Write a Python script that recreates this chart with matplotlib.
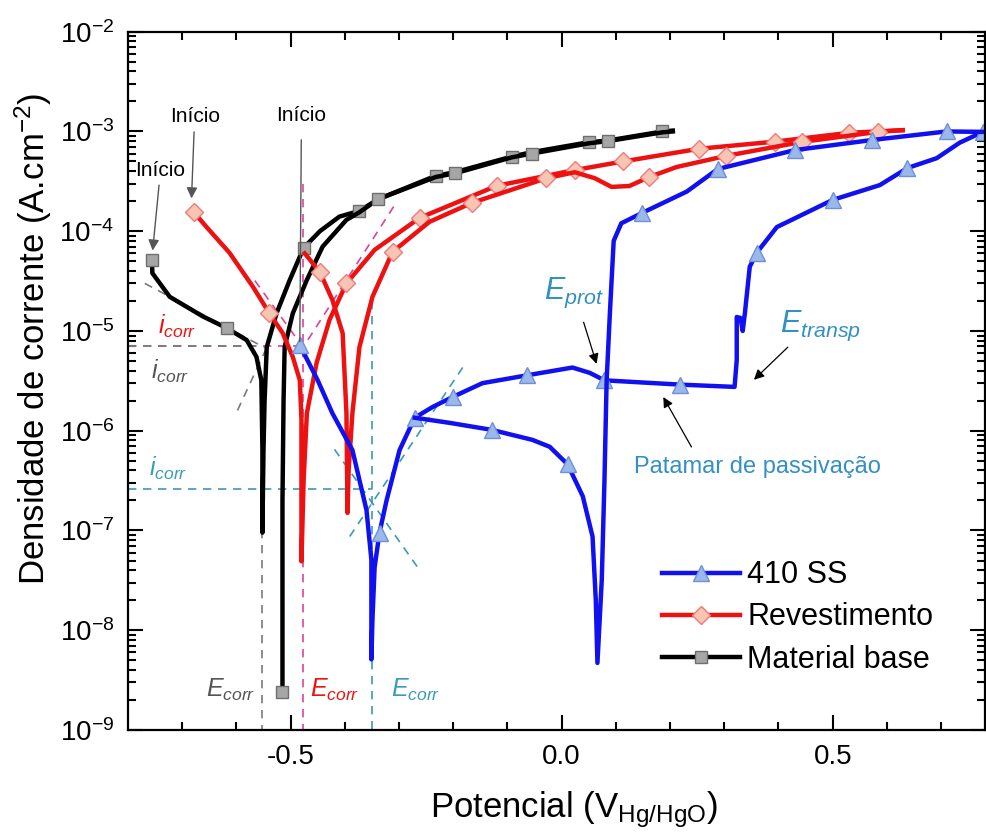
import numpy as np
import matplotlib
matplotlib.use("Agg")
import matplotlib.pyplot as plt

plt.rcParams['font.family'] = ['Liberation Sans', 'DejaVu Sans']
plt.rcParams['mathtext.fontset'] = 'custom'
plt.rcParams['mathtext.rm'] = 'Liberation Sans'
plt.rcParams['mathtext.it'] = 'Liberation Sans:italic'
plt.rcParams['mathtext.bf'] = 'Liberation Sans:bold'

# ---- Material base (black): forward and reverse scans ----
base_fwd_v = [-0.756, -0.755, -0.723, -0.662, -0.618, -0.581, -0.563, -0.554, -0.552, -0.552,
              -0.550, -0.548, -0.544, -0.526, -0.502, -0.476, -0.446, -0.410, -0.373, -0.338,
              -0.232, -0.197, -0.092, -0.055, 0.050, 0.085, 0.186, 0.205]
base_fwd_i = [5.1e-5, 3.8e-5, 2.2e-5, 1.4e-5, 1.07e-5, 8.1e-6, 5.5e-6, 3.2e-6, 6.5e-7, 9.5e-8,
              6.5e-7, 2.0e-6, 6.9e-6, 1.5e-5, 3.2e-5, 6.8e-5, 1.0e-4, 1.4e-4, 1.6e-4, 2.1e-4,
              3.6e-4, 3.9e-4, 5.6e-4, 6.2e-4, 7.8e-4, 8.1e-4, 1.0e-3, 1.02e-3]
base_fwd_mk = [0, 4, 15, 18, 20, 22, 24, 26]
base_rev_v = [0.205, 0.186, 0.085, 0.050, -0.055, -0.092, -0.197, -0.232, -0.338, -0.373,
              -0.397, -0.441, -0.470, -0.496, -0.511, -0.513, -0.515, -0.515]
base_rev_i = [1.0e-3, 9.8e-4, 8.0e-4, 7.6e-4, 6.0e-4, 5.5e-4, 3.8e-4, 3.5e-4, 2.1e-4, 1.55e-4,
              1.3e-4, 7.0e-5, 3.25e-5, 1.5e-5, 6.9e-6, 2.0e-6, 2.0e-7, 2.4e-9]
base_rev_mk = [2, 4, 6, 8, 17]

# ---- Revestimento (red) ----
rev_fwd_v = [-0.679, -0.655, -0.613, -0.570, -0.539, -0.515, -0.496, -0.483, -0.480, -0.480,
             -0.480, -0.476, -0.470, -0.452, -0.428, -0.397, -0.345, -0.262, -0.120, 0.024,
             0.113, 0.253, 0.393, 0.531, 0.629]
rev_fwd_i = [1.56e-4, 1.10e-4, 6.1e-5, 2.8e-5, 1.5e-5, 9.6e-6, 5.5e-6, 3.2e-6, 1.3e-6, 3.2e-7,
             4.9e-8, 3.2e-7, 1.5e-6, 4.8e-6, 1.3e-5, 3.0e-5, 6.5e-5, 1.36e-4, 2.85e-4, 4.1e-4,
             5.0e-4, 6.7e-4, 7.9e-4, 9.7e-4, 1.03e-3]
rev_fwd_mk = [0, 4, 15, 17, 18, 19, 20, 21, 22, 23]
rev_rev_v = [0.629, 0.583, 0.443, 0.304, 0.212, 0.162, 0.125, 0.092, 0.061, 0.024,
             -0.028, -0.166, -0.244, -0.312, -0.349, -0.373, -0.386, -0.393, -0.395, -0.397,
             -0.404, -0.423, -0.446, -0.474]
rev_rev_i = [1.03e-3, 9.9e-4, 7.85e-4, 5.7e-4, 4.4e-4, 3.5e-4, 2.84e-4, 2.78e-4, 3.4e-4, 3.9e-4,
             3.4e-4, 1.92e-4, 1.24e-4, 6.2e-5, 2.2e-5, 6.9e-6, 1.5e-6, 4.0e-7, 1.5e-7, 1.5e-6,
             9.5e-6, 2.05e-5, 3.9e-5, 6.0e-5]
rev_rev_mk = [1, 2, 3, 5, 10, 11, 13, 22]

# ---- 410 SS (blue) ----
ss_fwd_v = [-0.483, -0.450, -0.423, -0.386, -0.360, -0.351, -0.351, -0.351, -0.349, -0.345,
            -0.336, -0.323, -0.299, -0.271, -0.238, -0.201, -0.146, -0.063, 0.020, 0.052,
            0.079, 0.218, 0.319, 0.323, 0.323, 0.330, 0.334, 0.338, 0.347, 0.360,
            0.397, 0.500, 0.587, 0.638, 0.692, 0.734, 0.777]
ss_fwd_i = [7.2e-6, 3.2e-6, 1.5e-6, 6.4e-7, 1.6e-7, 5.1e-8, 1.3e-8, 5.1e-9, 1.3e-8, 4.3e-8,
            9.5e-8, 2.0e-7, 6.4e-7, 1.35e-6, 1.73e-6, 2.18e-6, 3.0e-6, 3.6e-6, 4.3e-6, 3.8e-6,
            3.2e-6, 2.9e-6, 2.75e-6, 5.1e-6, 1.38e-5, 1.35e-5, 1.0e-5, 1.5e-5, 4.4e-5, 6.1e-5,
            1.1e-4, 2.06e-4, 2.9e-4, 4.3e-4, 5.4e-4, 7.7e-4, 9.9e-4]
ss_fwd_mk = [0, 10, 13, 15, 17, 20, 21, 29, 31, 33, 36]
ss_rev_v = [0.777, 0.710, 0.572, 0.430, 0.288, 0.231, 0.149, 0.110, 0.096, 0.089,
            0.083, 0.079, 0.074, 0.066, 0.063, 0.057, 0.039, 0.011, -0.022, -0.054,
            -0.129, -0.207, -0.271]
ss_rev_i = [9.9e-4, 1.0e-3, 8.2e-4, 6.5e-4, 4.2e-4, 2.5e-4, 1.53e-4, 1.2e-4, 8.0e-5, 1.52e-5,
            3.2e-6, 3.2e-7, 3.2e-8, 4.7e-9, 2.0e-8, 8.7e-8, 2.2e-7, 4.6e-7, 6.9e-7, 8.1e-7,
            1.02e-6, 1.2e-6, 1.35e-6]
ss_rev_mk = [1, 2, 3, 4, 6, 17, 20]

# ---- Tafel extrapolation / Ecorr / icorr guide lines ----
ecorr_base, icorr_base = -0.552, 7.0e-6
ecorr_rev, icorr_rev = -0.478, 7.15e-6
ecorr_ss, icorr_ss = -0.349, 2.6e-7
tafel_base_c = ([-0.769, -0.548], [3.0e-5, 6.8e-6])
tafel_base_a = ([-0.598, -0.542], [1.6e-6, 7.2e-6])
tafel_rev_c = ([-0.566, -0.474], [3.2e-5, 6.5e-6])
tafel_rev_a = ([-0.483, -0.308], [6.1e-6, 1.83e-4])
tafel_ss_c = ([-0.419, -0.266], [6.5e-7, 4.3e-8])
tafel_ss_a = ([-0.391, -0.179], [8.7e-8, 4.6e-6])

c_blue, c_red, c_black = '#1010f0', '#ee1111', '#000000'
c_mag, c_teal, c_gray = '#dd4499', '#3a9ab8', '#7a7a7a'

fig = plt.figure(figsize=(9.86, 8.34), dpi=100)
ax = fig.add_axes([0.1298, 0.1247, 0.8692, 0.8373])

# guide lines
dash = dict(lw=1.2, dashes=(5, 4))
ax.plot([ecorr_rev, ecorr_rev], [3.0e-4, 1e-9], color=c_mag, **dash)
ax.plot([-0.8, ecorr_rev], [icorr_rev, icorr_rev], color=c_mag, **dash)
ax.plot(*tafel_rev_c, color=c_mag, **dash)
ax.plot(*tafel_rev_a, color=c_mag, **dash)
ax.plot([ecorr_base, ecorr_base], [1.0e-7, 1e-9], color=c_gray, **dash)
ax.plot([-0.8, ecorr_base], [icorr_base, icorr_base], color=c_gray, **dash)
ax.plot(*tafel_base_c, color=c_gray, **dash)
ax.plot(*tafel_base_a, color=c_gray, **dash)
ax.plot([ecorr_ss, ecorr_ss], [2.0e-5, 1e-9], color=c_teal, **dash)
ax.plot([-0.8, ecorr_ss], [icorr_ss, icorr_ss], color=c_teal, **dash)
ax.plot(*tafel_ss_c, color=c_teal, **dash)
ax.plot(*tafel_ss_a, color=c_teal, **dash)

# curves
sty_base = dict(color=c_black, lw=3.2, marker='s', ms=9, mfc='#a6a6a6', mec='#6e6e6e', mew=1)
sty_rev = dict(color=c_red, lw=3.2, marker='D', ms=9, mfc='#f8c4b4', mec='#f07a7a', mew=1)
sty_ss = dict(color=c_blue, lw=3.2, marker='^', ms=11, mfc='#9bb8ea', mec='#6f8fd8', mew=1)

ax.plot(base_fwd_v, base_fwd_i, markevery=base_fwd_mk, **sty_base)
ax.plot(base_rev_v, base_rev_i, markevery=base_rev_mk, **sty_base)
ax.plot(rev_fwd_v, rev_fwd_i, markevery=rev_fwd_mk, **sty_rev)
ax.plot(rev_rev_v, rev_rev_i, markevery=rev_rev_mk, **sty_rev)
ax.plot(ss_fwd_v, ss_fwd_i, markevery=ss_fwd_mk, **sty_ss)
ax.plot(ss_rev_v, ss_rev_i, markevery=ss_rev_mk, **sty_ss)

# legend handles
h_ss, = ax.plot([], [], **sty_ss)
h_rev, = ax.plot([], [], **sty_rev)
h_base, = ax.plot([], [], **sty_base)
ax.legend([h_ss, h_rev, h_base], ['410 SS', 'Revestimento', 'Material base'],
          loc='upper left', bbox_to_anchor=(0.605, 0.265), frameon=False, fontsize=22,
          handlelength=2.55, handletextpad=0.25, labelspacing=0.4, borderpad=0, numpoints=1)

# annotations: start markers
arr_gray = dict(arrowstyle='-|>', color='#555555', lw=1.0, mutation_scale=16)
ax.annotate('Início', xy=(-0.755, 6.0e-5), xytext=(-0.740, 4.1e-4), fontsize=15,
            ha='center', va='center', arrowprops=arr_gray)
ax.annotate('Início', xy=(-0.683, 2.0e-4), xytext=(-0.677, 1.4e-3), fontsize=15,
            ha='center', va='center', arrowprops=arr_gray)
ax.annotate('Início', xy=(-0.483, 7.8e-6), xytext=(-0.480, 1.46e-3), fontsize=15,
            ha='center', va='center',
            arrowprops=dict(arrowstyle='-', color='#555555', lw=1.0, shrinkA=9, shrinkB=0))

# Ecorr / icorr labels
ax.text(-0.611, 2.5e-9, r'$E_{corr}$', color='#555555', fontsize=18, ha='center', va='center')
ax.text(-0.419, 2.5e-9, r'$E_{corr}$', color=c_red, fontsize=18, ha='center', va='center')
ax.text(-0.270, 2.5e-9, r'$E_{corr}$', color=c_teal, fontsize=18, ha='center', va='center')
ax.text(-0.710, 1.1e-5, r'$i_{corr}$', color=c_red, fontsize=18, ha='center', va='center')
ax.text(-0.722, 3.9e-6, r'$i_{corr}$', color='#555555', fontsize=18, ha='center', va='center')
ax.text(-0.726, 4.2e-7, r'$i_{corr}$', color=c_teal, fontsize=18, ha='center', va='center')

# passivation annotations
c_txt = '#3390c4'
arr_blk = dict(arrowstyle='-|>', color='black', lw=0.9, mutation_scale=15)
ax.text(0.022, 2.4e-5, r'$E_{prot}$', color=c_txt, fontsize=22, ha='center', va='center')
ax.annotate('', xy=(0.066, 4.4e-6), xytext=(0.039, 1.3e-5), arrowprops=arr_blk)
ax.text(0.478, 1.12e-5, r'$E_{transp}$', color=c_txt, fontsize=22, ha='center', va='center')
ax.annotate('', xy=(0.351, 3.1e-6), xytext=(0.421, 7.2e-6), arrowprops=arr_blk)
ax.text(0.362, 4.35e-7, 'Patamar de passivação', color=c_txt, fontsize=17,
        ha='center', va='center')
ax.annotate('', xy=(0.185, 2.3e-6), xytext=(0.242, 6.5e-7), arrowprops=arr_blk)

# axes
ax.set_yscale('log')
ax.set_xlim(-0.8, 0.781)
ax.set_ylim(1e-9, 1e-2)
ax.set_xticks([-0.5, 0.0, 0.5])
ax.set_xticklabels(['-0.5', '0.0', '0.5'])
ax.set_xticks(np.arange(-0.7, 0.8, 0.1), minor=True)
ax.set_yticks([10.0 ** k for k in range(-9, -1)])
ax.tick_params(which='both', direction='in', top=True, right=True, width=1.5)
ax.tick_params(which='major', length=11, labelsize=20, pad=10)
ax.tick_params(which='minor', length=6)
for s in ax.spines.values():
    s.set_linewidth(1.6)

ax.set_xlabel(r'Potencial (V$_{\mathrm{Hg/HgO}}$)', fontsize=25)
ax.set_ylabel(r'Densidade de corrente (A.cm$^{-2}$)', fontsize=25)
ax.xaxis.set_label_coords(0.52, -0.085)
ax.yaxis.set_label_coords(-0.086, 0.56)

fig.savefig('out.png', dpi=100)
